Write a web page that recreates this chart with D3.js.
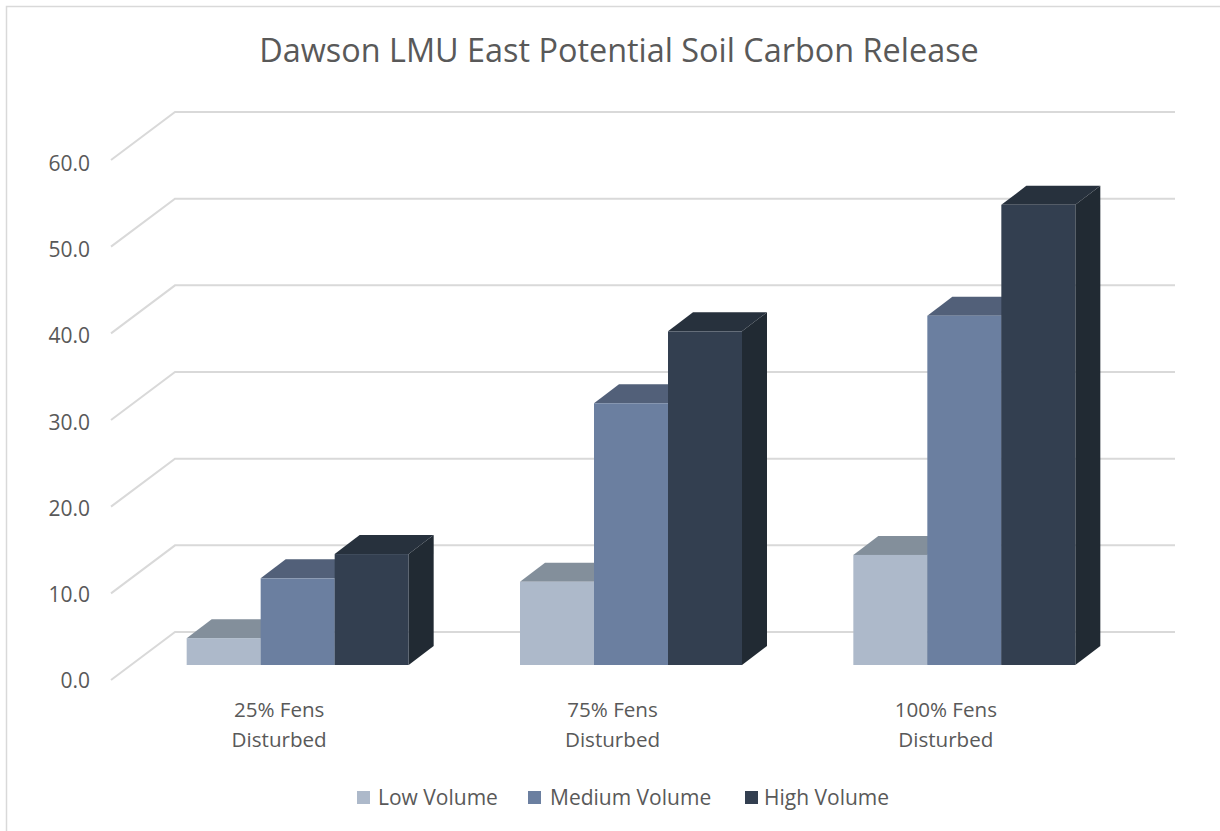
<!DOCTYPE html>
<html>
<head>
<meta charset="utf-8">
<script src="https://cdnjs.cloudflare.com/ajax/libs/d3/7.8.5/d3.min.js"></script>
<style>
  html, body { margin: 0; padding: 0; background: #fff; }
  text { font-family: "Open Sans", sans-serif; fill: #595959; }
</style>
</head>
<body>
<svg id="chart" width="1220" height="831"></svg>
<script>
const chartTitle = "Dawson LMU East Potential Soil Carbon Release";
const categories = ["25% Fens Disturbed", "75% Fens Disturbed", "100% Fens Disturbed"];
const seriesNames = ["Low Volume", "Medium Volume", "High Volume"];
const lowVolume = [3.1, 9.6, 12.7];
const mediumVolume = [10.0, 30.2, 40.3];
const highVolume = [12.8, 38.5, 53.1];
const tickValues = [0, 10, 20, 30, 40, 50, 60];

const frontColors = ["#adb9ca", "#6b7fa0", "#333f50"];
const topColors = ["#838f9b", "#526079", "#27313d"];
const sideColors = ["#838f9b", "#526079", "#212a33"];

const svg = d3.select("#chart");

// Frame of the 3D plot: floor front edge, back wall offset, and the plane the bars stand on.
const x0 = d3.scaleBand().domain(categories).range([111, 1111]);
const y = d3.scaleLinear().domain([0, 60]).range([680, 160]);
const tickBaseline = d3.scaleLinear().domain([0, 60]).range([688, 171]);
const wall = { dx: 64, dy: -48 };
const barPlane = { dx: 20, dy: -15 };
const barDepth = { dx: 25, dy: -19 };
const barBand = 222;
const x1 = d3.scaleBand().domain(seriesNames).range([-barBand / 2, barBand / 2]);

// Chart border
svg.append("path")
  .attr("d", "M1220,6.5H6.5V831")
  .attr("fill", "none")
  .attr("stroke", "#d9d9d9")
  .attr("stroke-width", 1.5);

svg.append("text")
  .attr("x", 619).attr("y", 62)
  .attr("text-anchor", "middle")
  .style("font-size", "32.4px")
  .text(chartTitle);

// Gridlines run along the floor edge up to the back wall, then across it
svg.append("g").selectAll("path").data(tickValues).join("path")
  .attr("d", d => {
    const p = d3.path();
    p.moveTo(111, y(d));
    p.lineTo(111 + wall.dx, y(d) + wall.dy);
    p.lineTo(1175, y(d) + wall.dy);
    return p.toString();
  })
  .attr("fill", "none")
  .attr("stroke", "#d9d9d9")
  .attr("stroke-width", 2);

svg.append("g").selectAll("text").data(tickValues).join("text")
  .attr("x", 90).attr("y", d => tickBaseline(d))
  .attr("text-anchor", "end")
  .style("font-size", "21px")
  .text(d => d3.format(".1f")(d));

const seriesValues = [lowVolume, mediumVolume, highVolume];

// Bars, drawn series by series so each one covers the depth faces of the previous
const bars = svg.append("g");
seriesNames.forEach((name, s) => {
  categories.forEach((cat, c) => {
    const left = x0(cat) + x0.bandwidth() / 2 + barPlane.dx + x1(name);
    const right = left + x1.bandwidth();
    const base = y(0) + barPlane.dy;
    const top = y(seriesValues[s][c]) + barPlane.dy;
    const g = bars.append("g");
    g.append("polygon")
      .attr("points", [[right, top], [right + barDepth.dx, top + barDepth.dy],
        [right + barDepth.dx, base + barDepth.dy], [right, base]].join(" "))
      .attr("fill", sideColors[s]);
    g.append("polygon")
      .attr("points", [[left, top], [left + barDepth.dx, top + barDepth.dy],
        [right + barDepth.dx, top + barDepth.dy], [right, top]].join(" "))
      .attr("fill", topColors[s]);
    g.append("rect")
      .attr("x", left).attr("y", top)
      .attr("width", x1.bandwidth()).attr("height", base - top)
      .attr("fill", frontColors[s]);
  });
});

// Category labels wrap onto two lines
categories.forEach(cat => {
  const cx = x0(cat) + x0.bandwidth() / 2 + 1.5;
  const words = cat.split(" ");
  const t = svg.append("text").attr("text-anchor", "middle").style("font-size", "20.6px");
  t.append("tspan").attr("x", cx).attr("y", 717).text(words.slice(0, 2).join(" "));
  t.append("tspan").attr("x", cx).attr("y", 747).text(words[2]);
});

// Legend
const legendX = [357, 528, 745];
const legendTextX = [21, 22, 19];
const legend = svg.append("g").selectAll("g").data(seriesNames).join("g")
  .attr("transform", (d, i) => `translate(${legendX[i]},791)`);
legend.append("rect").attr("width", 13).attr("height", 13)
  .attr("fill", (d, i) => frontColors[i]);
legend.append("text").attr("x", (d, i) => legendTextX[i]).attr("y", 13.5)
  .style("font-size", "21px")
  .text(d => d);
</script>
</body>
</html>
